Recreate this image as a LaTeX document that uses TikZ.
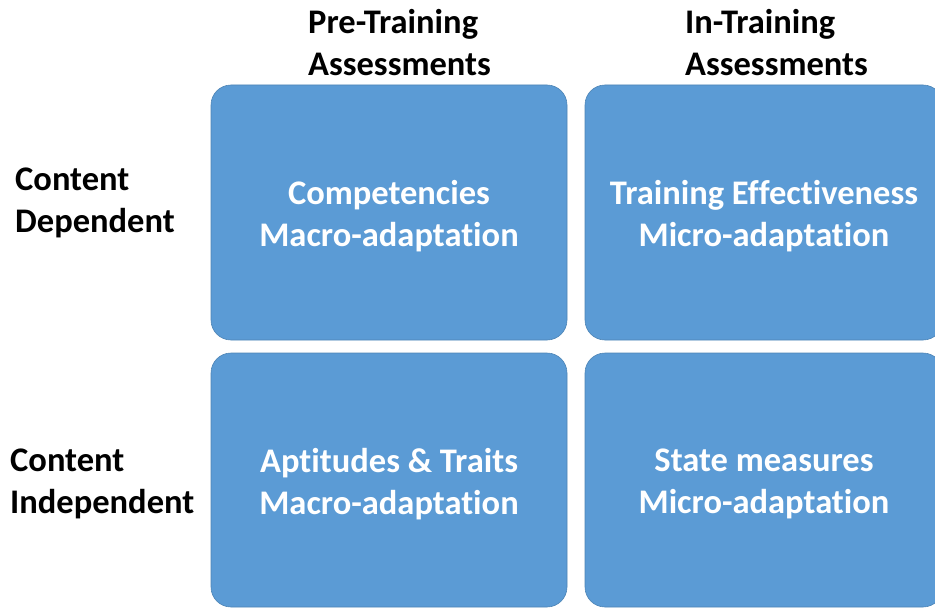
\documentclass[tikz,border=0pt]{standalone}
\usepackage{fontspec}
\setmainfont[Ligatures=NoCommon]{Carlito}
\definecolor{cellblue}{HTML}{5B9BD5}
\tikzset{
  cell/.style={fill=cellblue, draw=cellblue!85!black, line width=0.6pt, rounded corners=20pt},
  celltext/.style={text=white, font=\bfseries\fontsize{34.5}{42}\selectfont, align=center, inner sep=0pt},
  headtext/.style={text=black, font=\bfseries\fontsize{34.5}{42}\selectfont, align=left, inner sep=0pt, anchor=west}
}
\begin{document}
\begin{tikzpicture}[x=1pt,y=-1pt]
\useasboundingbox (0,0) rectangle (935,610);
\begin{scope}
\clip (0,0) rectangle (935,610);
\draw[cell] (211,85) rectangle (567,340);
\draw[cell] (585,85) rectangle (943,340);
\draw[cell] (211,353) rectangle (567,607);
\draw[cell] (585,353) rectangle (943,607);
\end{scope}
\node[celltext] (cd) at (389,216) {Competencies\\Macro-adaptation};
\node[celltext] (te) at (764,216) {Training Effectiveness\\Micro-adaptation};
\node[celltext] (at) at (389,484) {Aptitudes \& Traits\\Macro-adaptation};
\node[celltext] (sm) at (764,484) {State measures\\Micro-adaptation};
\node[headtext] (pre) at (308,43) {Pre-Training\\Assessments};
\node[headtext] (in) at (685,43) {In-Training\\Assessments};
\node[headtext] (dep) at (15,203) {Content\\Dependent};
\node[headtext] (ind) at (10,484) {Content\\Independent};
\end{tikzpicture}
\end{document}
